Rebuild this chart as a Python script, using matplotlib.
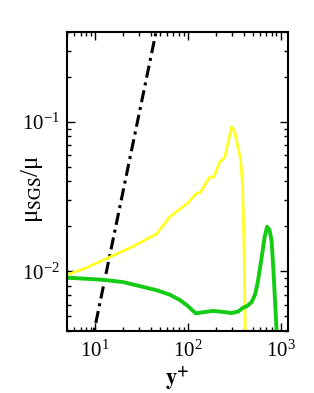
import numpy as np
import matplotlib
matplotlib.use('Agg')
import matplotlib.pyplot as plt
from matplotlib.ticker import LogLocator, NullFormatter

# data (y+ , mu_sgs/mu)
yel_x = [5.0, 7.8, 12.2, 25, 46, 64, 100, 125, 135, 172, 190, 221, 250, 297, 320, 371, 390, 400, 410, 418]
yel_y = [0.0095, 0.0105, 0.0119, 0.0146, 0.0178, 0.0232, 0.0287, 0.0335, 0.0335, 0.0428, 0.0428,
         0.054, 0.058, 0.093, 0.086, 0.056, 0.037, 0.02, 0.008, 0.003]

grn_x = [5.0, 12.2, 20, 30, 46, 64, 82, 100, 112, 122, 135, 186, 250, 297, 350, 390, 440, 488,
         530, 566, 620, 673, 715, 760, 800, 840, 906, 930]
grn_y = [0.0091, 0.0088, 0.0085, 0.0080, 0.0075, 0.0070, 0.00645, 0.00588, 0.0055, 0.00525,
         0.0053, 0.00545, 0.00535, 0.00527, 0.0054, 0.0057, 0.0059, 0.00625, 0.0070, 0.0084,
         0.0120, 0.0170, 0.0199, 0.0190, 0.0160, 0.0098, 0.004, 0.003]

ref_x = [9.0, 50.0]   # dash-dot reference line ~ y+^3
ref_y = [0.0031, 0.53]

plt.rcParams['mathtext.fontset'] = 'stix'
plt.rcParams['font.family'] = ['Liberation Serif', 'DejaVu Serif']

fig = plt.figure(figsize=(3.14, 3.93), dpi=100)
ax = fig.add_axes([0.2134, 0.1578, 0.7036, 0.7608])

ax.plot(ref_x, ref_y, color='k', lw=2.2, linestyle=(0, (4, 1.6, 1, 1.6)))
ax.plot(yel_x, yel_y, color='#ffff22', lw=2.0)
ax.plot(grn_x, grn_y, color='#14cc14', lw=2.8)

ax.set_xscale('log')
ax.set_yscale('log')
ax.set_xlim(5, 1200)
ax.set_ylim(0.004, 0.4)

ax.xaxis.set_major_locator(LogLocator(base=10, numticks=10))
ax.yaxis.set_major_locator(LogLocator(base=10, numticks=10))
ax.xaxis.set_minor_locator(LogLocator(base=10, subs=np.arange(2, 10), numticks=20))
ax.yaxis.set_minor_locator(LogLocator(base=10, subs=np.arange(2, 10), numticks=20))
ax.xaxis.set_minor_formatter(NullFormatter())
ax.yaxis.set_minor_formatter(NullFormatter())

ax.tick_params(which='both', direction='in', top=True, right=True, width=1.0, labelsize=15)
ax.tick_params(axis='x', which='major', pad=7)
ax.tick_params(axis='y', which='major', pad=5)
ax.tick_params(which='major', length=6)
ax.tick_params(which='minor', length=3)
for s in ax.spines.values():
    s.set_linewidth(1.5)

ax.set_xlabel(r'$\mathbf{y^{+}}$', fontsize=16)
ax.xaxis.set_label_coords(0.498, -0.11)
ax.set_ylabel(r'μ$_{\mathrm{SGS}}$/μ', fontsize=18)
ax.yaxis.set_label_coords(-0.1, 0.475)

fig.savefig('out.png', dpi=100)
